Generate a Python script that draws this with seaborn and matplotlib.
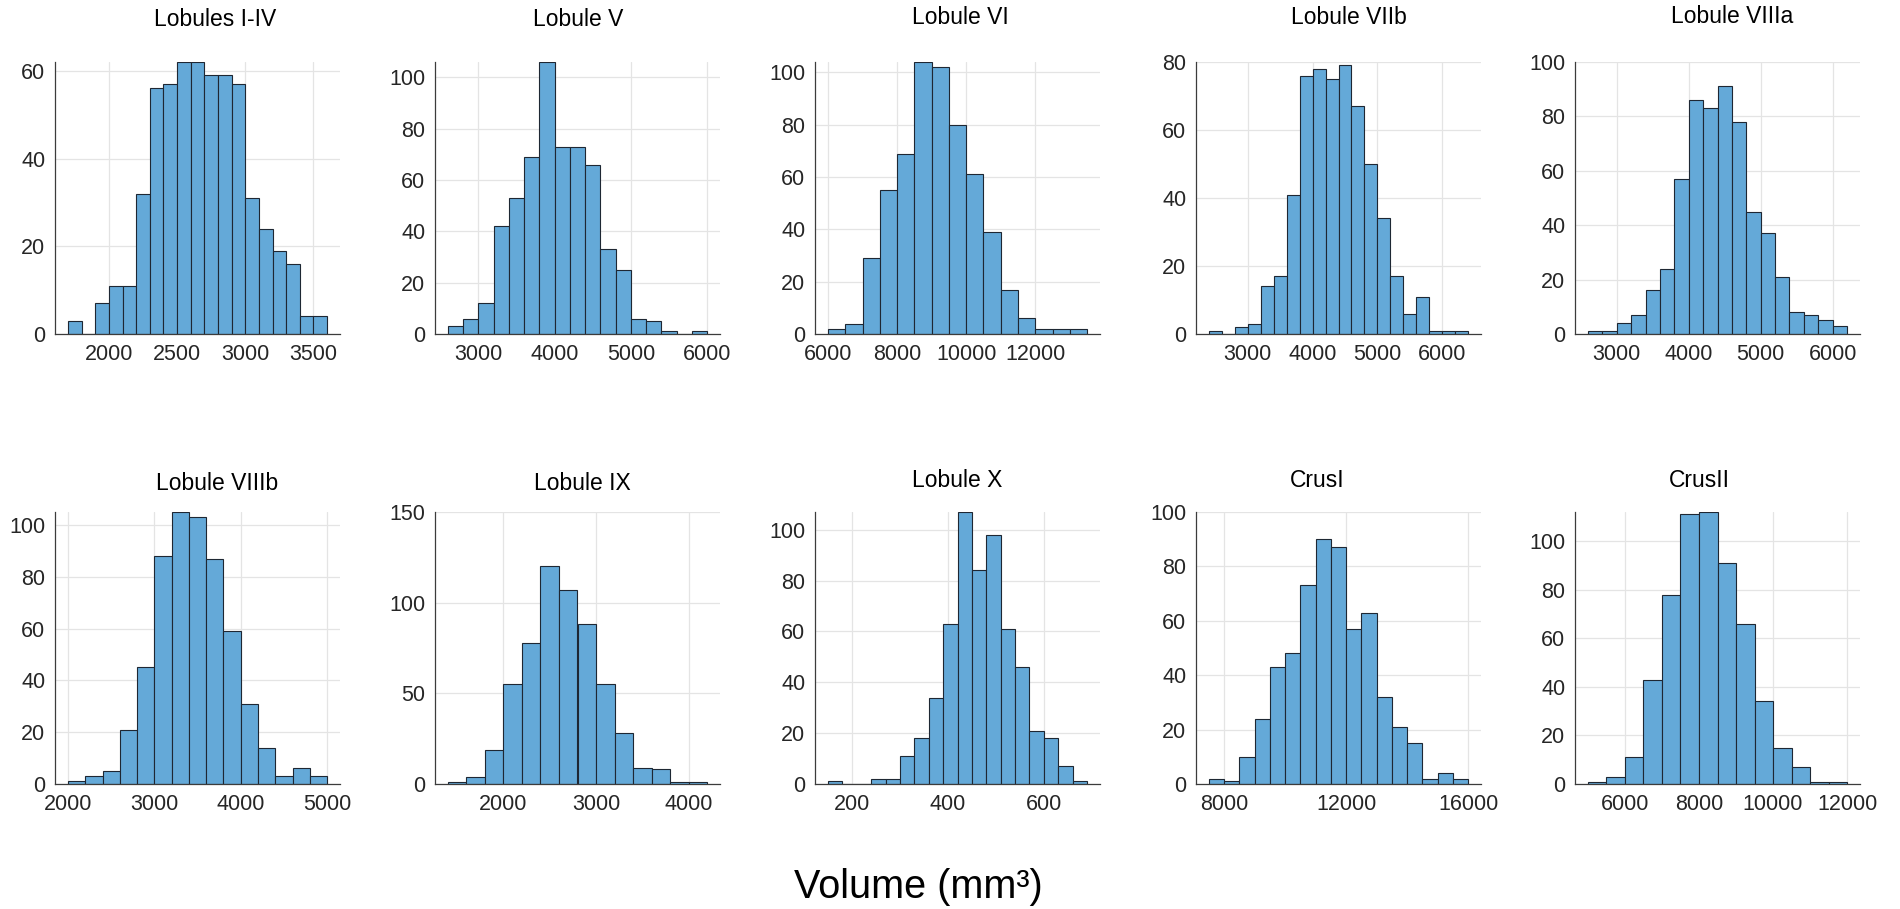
import numpy as np
import pandas as pd
import matplotlib
matplotlib.use("Agg")
import matplotlib.pyplot as plt
import seaborn as sns

# ---- data: volume histograms per cerebellar region ----
regions = ["Lobules I-IV", "Lobule V", "Lobule VI", "Lobule VIIb", "Lobule VIIIa",
           "Lobule VIIIb", "Lobule IX", "Lobule X", "CrusI", "CrusII"]

# first bin edge and bin width (mm^3)
bin_start = [1700, 2600, 6000, 2400, 2600, 2000, 1400, 150, 7500, 5000]
bin_width = [100, 200, 500, 200, 200, 200, 200, 30, 500, 500]

counts_I_IV = [3, 0, 7, 11, 11, 32, 56, 57, 62, 62, 59, 59, 57, 31, 24, 19, 16, 4, 4]
counts_V = [3, 6, 12, 42, 53, 69, 106, 73, 73, 66, 33, 25, 6, 5, 1, 0, 1]
counts_VI = [2, 4, 29, 55, 69, 104, 102, 80, 61, 39, 17, 6, 2, 2, 2]
counts_VIIb = [1, 0, 2, 3, 14, 17, 41, 76, 78, 75, 79, 67, 50, 34, 17, 6, 11, 1, 1, 1]
counts_VIIIa = [1, 1, 4, 7, 16, 24, 57, 86, 83, 91, 78, 45, 37, 21, 8, 7, 5, 3]
counts_VIIIb = [1, 3, 5, 21, 45, 88, 105, 103, 87, 59, 31, 14, 3, 6, 3]
counts_IX = [1, 4, 19, 55, 78, 120, 107, 88, 55, 28, 9, 8, 1, 1]
counts_X = [1, 0, 0, 2, 2, 11, 18, 34, 63, 107, 84, 98, 61, 46, 21, 18, 7, 1]
counts_CrusI = [2, 1, 10, 24, 43, 48, 73, 90, 87, 57, 63, 32, 21, 15, 2, 4, 2]
counts_CrusII = [1, 3, 11, 43, 78, 111, 112, 91, 66, 34, 15, 7, 1, 1]

all_counts = [counts_I_IV, counts_V, counts_VI, counts_VIIb, counts_VIIIa,
              counts_VIIIb, counts_IX, counts_X, counts_CrusI, counts_CrusII]

x_ticks = [[2000, 2500, 3000, 3500], [3000, 4000, 5000, 6000],
           [6000, 8000, 10000, 12000], [3000, 4000, 5000, 6000],
           [3000, 4000, 5000, 6000], [2000, 3000, 4000, 5000],
           [2000, 3000, 4000], [200, 400, 600], [8000, 12000, 16000],
           [6000, 8000, 10000, 12000]]
y_top = [62, 106, 104, 80, 100, 105, 150, 107, 100, 112]
y_step = [20, 20, 20, 20, 20, 20, 50, 20, 20, 20]

x_label = "Volume (mm³)"

# ---- layout (pixels on a 1900 x 909 canvas) ----
W, H = 1900, 909
ax_left = [55, 435, 815, 1196, 1575]
ax_w = 285
row_top = [62, 512]
ax_h = 272
title_cx = [215, 578, 960, 1349, 1732, 217, 582, 957, 1317, 1699]
title_base = [26, 26, 24, 24, 23, 490, 490, 487, 487, 487]

sns.set_theme(style="white")
plt.rcParams["font.family"] = ["Liberation Sans", "DejaVu Sans"]

fig = plt.figure(figsize=(W / 100, H / 100), dpi=100)
fig.patch.set_facecolor("white")

bar_face = "#64a9d8"
bar_edge = "#1e2733"
tick_col = "#262626"

for i, name in enumerate(regions):
    r, c = divmod(i, 5)
    left = ax_left[c]
    top = row_top[r]
    ax = fig.add_axes([left / W, 1 - (top + ax_h) / H, ax_w / W, ax_h / H])

    cnt = np.asarray(all_counts[i], dtype=float)
    edges = bin_start[i] + bin_width[i] * np.arange(len(cnt) + 1)
    centers = 0.5 * (edges[:-1] + edges[1:])
    df = pd.DataFrame({"volume": centers, "n": cnt})

    sns.histplot(data=df, x="volume", weights="n", bins=edges.tolist(), ax=ax,
                 stat="count", color=bar_face, alpha=1.0,
                 edgecolor=bar_edge, linewidth=0.8)

    span = edges[-1] - edges[0]
    ax.set_xlim(edges[0] - 0.05 * span, edges[-1] + 0.05 * span)
    ax.set_ylim(0, y_top[i])
    ax.set_xticks(x_ticks[i])
    ax.set_yticks(np.arange(0, y_top[i] + 1, y_step[i]))
    ax.set_xlabel("")
    ax.set_ylabel("")

    ax.set_axisbelow(True)
    ax.grid(True, color="#e4e4e4", linewidth=0.9)
    for s in ["top", "right"]:
        ax.spines[s].set_visible(False)
    for s in ["left", "bottom"]:
        ax.spines[s].set_color("#3c3c3c")
        ax.spines[s].set_linewidth(0.9)
        ax.spines[s].set_zorder(5)
    ax.tick_params(axis="both", length=0, labelsize=15.5, colors=tick_col)
    ax.tick_params(axis="x", pad=7)
    ax.tick_params(axis="y", pad=7)

    # region name above each panel
    fig.text(title_cx[i] / W, 1 - title_base[i] / H, name, ha="center",
             va="baseline", fontsize=16.5, color="black")

fig.text(918 / W, 1 - 898 / H, x_label, ha="center", va="baseline",
         fontsize=28.5, color="black")

fig.savefig("out.png", dpi=100, facecolor="white")
